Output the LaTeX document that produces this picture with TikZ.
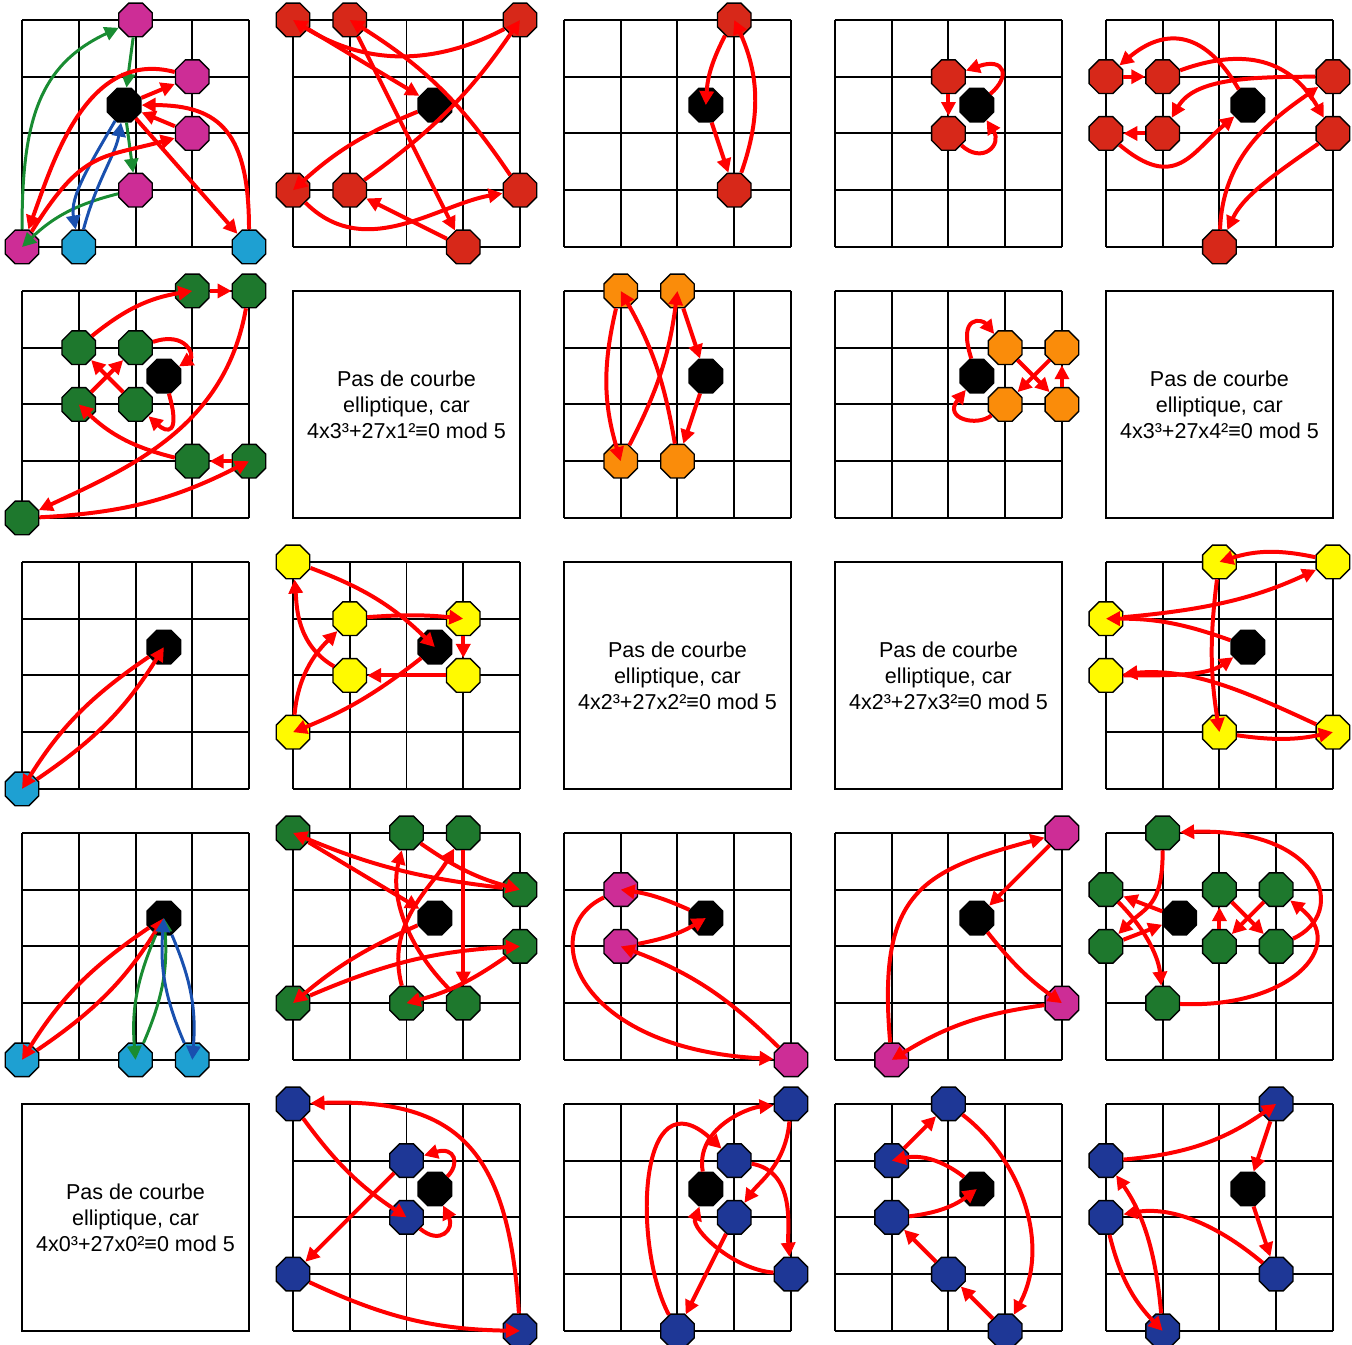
\documentclass[tikz,border=0pt]{standalone}
\usepackage{fontspec}
\setmainfont{Liberation Sans}
\usetikzlibrary{arrows.meta,shapes.geometric}
\definecolor{ptmagenta}{RGB}{205,45,150}
\definecolor{ptcyan}{RGB}{30,160,210}
\definecolor{ptrouge}{RGB}{215,40,25}
\definecolor{ptvert}{RGB}{30,120,45}
\definecolor{ptorange}{RGB}{250,140,10}
\definecolor{ptjaune}{RGB}{255,250,0}
\definecolor{ptbleu}{RGB}{30,55,150}
\definecolor{flrouge}{RGB}{255,0,0}
\definecolor{flvert}{RGB}{25,140,50}
\definecolor{flbleu}{RGB}{25,80,175}
\begin{document}
\begin{tikzpicture}[x=1cm,y=1cm,>={Triangle[length=7pt,width=7pt]},
  grille/.style={line width=1pt},
  pt/.style={regular polygon,regular polygon sides=8,draw=black,line width=0.7pt,inner sep=0pt,minimum size=0.64cm},
  inf/.style={pt,fill=black},
  pm/.style={pt,fill=ptmagenta},
  pc/.style={pt,fill=ptcyan},
  pr/.style={pt,fill=ptrouge},
  pv/.style={pt,fill=ptvert},
  po/.style={pt,fill=ptorange},
  pj/.style={pt,fill=ptjaune},
  pb/.style={pt,fill=ptbleu},
  fl/.style={->,line width=2pt,flrouge},
  flv/.style={->,line width=1.5pt,flvert},
  flb/.style={->,line width=1.5pt,flbleu},
  txt/.style={align=center,font=\fontsize{10.8pt}{13pt}\selectfont}]
\useasboundingbox (-0.388,-19.348) rectangle (23.436,4.352);

\begin{scope}[shift={(0,0)},name prefix=a4b0-]
  \draw[grille] (0,0) grid (4,4);
  \node[inf] (o) at (1.8,2.5) {};
  \node[pm] (m1) at (2,4) {};
  \node[pm] (m2) at (3,3) {};
  \node[pm] (m3) at (3,2) {};
  \node[pm] (m4) at (2,1) {};
  \node[pm] (m5) at (0,0) {};
  \node[pc] (c1) at (1,0) {};
  \node[pc] (c2) at (4,0) {};
  \draw[flv] (m5) to[out=90,in=205,looseness=1.15] (m1);
  \draw[flv] (m1) -- (o);
  \draw[flv] (o) -- (m4);
  \draw[flv] (m4) to[bend right=15] (m5);
  \draw[flb] (o) to[out=240,in=100] (c1);
  \draw[flb] (c1) to[out=75,in=260] (o);
  \draw[fl] (o) -- (m2);
  \draw[fl] (m2) to[out=165,in=70] (m5);
  \draw[fl] (m5) to[out=58,in=195,looseness=1.3] (m3);
  \draw[fl] (m3) -- (o);
  \draw[fl] (o) -- (c2);
  \draw[fl] (c2) to[out=90,in=0,looseness=1.4] (o);
\end{scope}

\begin{scope}[shift={(4.775,0)},name prefix=a4b1-]
  \draw[grille] (0,0) grid (4,4);
  \node[inf] (o) at (2.5,2.5) {};
  \node[pr] (p1) at (0,1) {};
  \node[pr] (p2) at (4,1) {};
  \node[pr] (p3) at (1,4) {};
  \node[pr] (p4) at (3,0) {};
  \node[pr] (p5) at (1,1) {};
  \node[pr] (p6) at (4,4) {};
  \node[pr] (p7) at (0,4) {};
  \draw[fl] (o) to[bend right=10] (p1);
  \draw[fl] (p1) to[out=-45,in=190] (p2);
  \draw[fl] (p2) to[bend right=12] (p3);
  \draw[fl] (p3) -- (p4);
  \draw[fl] (p4) -- (p5);
  \draw[fl] (p5) to[bend right=10] (p6);
  \draw[fl] (p6) to[bend left=30] (p7);
  \draw[fl] (p7) -- (o);
\end{scope}

\begin{scope}[shift={(9.55,0)},name prefix=a4b2-]
  \draw[grille] (0,0) grid (4,4);
  \node[inf] (o) at (2.5,2.5) {};
  \node[pr] (p1) at (3,1) {};
  \node[pr] (p2) at (3,4) {};
  \draw[fl] (o) -- (p1);
  \draw[fl] (p1) to[bend right=22] (p2);
  \draw[fl] (p2) to[bend right=12] (o);
\end{scope}

\begin{scope}[shift={(14.325,0)},name prefix=a4b3-]
  \draw[grille] (0,0) grid (4,4);
  \node[inf] (o) at (2.5,2.5) {};
  \node[pr] (p1) at (2,3) {};
  \node[pr] (p2) at (2,2) {};
  \draw[fl] (o) .. controls (3.1,3.0) and (3.0,3.35) .. (p1);
  \draw[fl] (p1) -- (p2);
  \draw[fl] (p2) .. controls (2.6,1.45) and (2.95,1.8) .. (o);
\end{scope}

\begin{scope}[shift={(19.1,0)},name prefix=a4b4-]
  \draw[grille] (0,0) grid (4,4);
  \node[inf] (o) at (2.5,2.5) {};
  \node[pr] (p1) at (0,3) {};
  \node[pr] (p2) at (1,3) {};
  \node[pr] (p3) at (4,2) {};
  \node[pr] (p4) at (2,0) {};
  \node[pr] (p5) at (4,3) {};
  \node[pr] (p6) at (1,2) {};
  \node[pr] (p7) at (0,2) {};
  \draw[fl] (o) to[out=120,in=40,looseness=1.4] (p1);
  \draw[fl] (p1) -- (p2);
  \draw[fl] (p2) to[out=20,in=120,looseness=1.2] (p3);
  \draw[fl] (p3) to[out=215,in=65] (p4);
  \draw[fl] (p4) to[out=88,in=215] (p5);
  \draw[fl] (p5) to[out=180,in=60] (p6);
  \draw[fl] (p6) -- (p7);
  \draw[fl] (p7) to[out=-40,in=220,looseness=1.4] (o);
\end{scope}

\begin{scope}[shift={(0,-4.775)},name prefix=a3b0-]
  \draw[grille] (0,0) grid (4,4);
  \node[inf] (o) at (2.5,2.5) {};
  \node[pv] (p1) at (2,2) {};
  \node[pv] (p2) at (1,3) {};
  \node[pv] (p3) at (3,4) {};
  \node[pv] (p4) at (4,4) {};
  \node[pv] (p5) at (0,0) {};
  \node[pv] (p6) at (4,1) {};
  \node[pv] (p7) at (3,1) {};
  \node[pv] (p8) at (1,2) {};
  \node[pv] (p9) at (2,3) {};
  \draw[fl] (o) .. controls (2.8,1.45) and (2.55,1.5) .. (p1);
  \draw[fl] (p1) -- (p2);
  \draw[fl] (p2) to[bend left=15] (p3);
  \draw[fl] (p3) -- (p4);
  \draw[fl] (p4) to[out=260,in=25] (p5);
  \draw[fl] (p5) to[bend right=12] (p6);
  \draw[fl] (p6) -- (p7);
  \draw[fl] (p7) to[bend left=15] (p8);
  \draw[fl] (p8) -- (p9);
  \draw[fl] (p9) .. controls (2.9,3.3) and (3.05,2.85) .. (o);
\end{scope}

\begin{scope}[shift={(4.775,-4.775)},name prefix=a3b1-]
  \draw[grille] (0,0) rectangle (4,4);
  \node[txt] (t) at (2,2) {Pas de courbe\\elliptique, car\\4x3³+27x1²≡0 mod 5};
\end{scope}

\begin{scope}[shift={(9.55,-4.775)},name prefix=a3b2-]
  \draw[grille] (0,0) grid (4,4);
  \node[inf] (o) at (2.5,2.5) {};
  \node[po] (p1) at (2,1) {};
  \node[po] (p2) at (1,4) {};
  \node[po] (p3) at (1,1) {};
  \node[po] (p4) at (2,4) {};
  \draw[fl] (o) -- (p1);
  \draw[fl] (p1) to[bend right=10] (p2);
  \draw[fl] (p2) to[bend right=15] (p3);
  \draw[fl] (p3) to[bend right=10] (p4);
  \draw[fl] (p4) -- (o);
\end{scope}

\begin{scope}[shift={(14.325,-4.775)},name prefix=a3b3-]
  \draw[grille] (0,0) grid (4,4);
  \node[inf] (o) at (2.5,2.5) {};
  \node[po] (p1) at (3,3) {};
  \node[po] (p2) at (4,2) {};
  \node[po] (p3) at (4,3) {};
  \node[po] (p4) at (3,2) {};
  \draw[fl] (o) .. controls (2.15,3.6) and (2.6,3.5) .. (p1);
  \draw[fl] (p1) -- (p2);
  \draw[fl] (p2) -- (p3);
  \draw[fl] (p3) -- (p4);
  \draw[fl] (p4) .. controls (2.5,1.6) and (1.9,1.75) .. (o);
\end{scope}

\begin{scope}[shift={(19.1,-4.775)},name prefix=a3b4-]
  \draw[grille] (0,0) rectangle (4,4);
  \node[txt] (t) at (2,2) {Pas de courbe\\elliptique, car\\4x3³+27x4²≡0 mod 5};
\end{scope}

\begin{scope}[shift={(0,-9.55)},name prefix=a2b0-]
  \draw[grille] (0,0) grid (4,4);
  \node[inf] (o) at (2.5,2.5) {};
  \node[pc] (p) at (0,0) {};
  \draw[fl] (o) to[bend right=12] (p);
  \draw[fl] (p) to[bend right=12] (o);
\end{scope}

\begin{scope}[shift={(4.775,-9.55)},name prefix=a2b1-]
  \draw[grille] (0,0) grid (4,4);
  \node[inf] (o) at (2.5,2.5) {};
  \node[pj] (p1) at (0,1) {};
  \node[pj] (p2) at (1,3) {};
  \node[pj] (p3) at (3,3) {};
  \node[pj] (p4) at (3,2) {};
  \node[pj] (p5) at (1,2) {};
  \node[pj] (p6) at (0,4) {};
  \draw[fl] (o) to[bend left=8] (p1);
  \draw[fl] (p1) to[out=85,in=225] (p2);
  \draw[fl] (p2) to[bend left=5] (p3);
  \draw[fl] (p3) -- (p4);
  \draw[fl] (p4) -- (p5);
  \draw[fl] (p5) to[out=150,in=-85] (p6);
  \draw[fl] (p6) to[bend left=12] (o);
\end{scope}

\begin{scope}[shift={(9.55,-9.55)},name prefix=a2b2-]
  \draw[grille] (0,0) rectangle (4,4);
  \node[txt] (t) at (2,2) {Pas de courbe\\elliptique, car\\4x2³+27x2²≡0 mod 5};
\end{scope}

\begin{scope}[shift={(14.325,-9.55)},name prefix=a2b3-]
  \draw[grille] (0,0) rectangle (4,4);
  \node[txt] (t) at (2,2) {Pas de courbe\\elliptique, car\\4x2³+27x3²≡0 mod 5};
\end{scope}

\begin{scope}[shift={(19.1,-9.55)},name prefix=a2b4-]
  \draw[grille] (0,0) grid (4,4);
  \node[inf] (o) at (2.5,2.5) {};
  \node[pj] (p1) at (0,3) {};
  \node[pj] (p2) at (4,4) {};
  \node[pj] (p3) at (2,4) {};
  \node[pj] (p4) at (2,1) {};
  \node[pj] (p5) at (4,1) {};
  \node[pj] (p6) at (0,2) {};
  \draw[fl] (o) to[bend right=10] (p1);
  \draw[fl] (p1) to[out=5,in=205] (p2);
  \draw[fl] (p2) to[bend right=15] (p3);
  \draw[fl] (p3) to[bend right=8] (p4);
  \draw[fl] (p4) to[bend right=10] (p5);
  \draw[fl] (p5) to[out=155,in=5] (p6);
  \draw[fl] (p6) to[out=0,in=215] (o);
\end{scope}

\begin{scope}[shift={(0,-14.325)},name prefix=a1b0-]
  \draw[grille] (0,0) grid (4,4);
  \node[inf] (o) at (2.5,2.5) {};
  \node[pc] (p1) at (0,0) {};
  \node[pc] (p2) at (2,0) {};
  \node[pc] (p3) at (3,0) {};
  \draw[fl] (o) to[bend right=12] (p1);
  \draw[fl] (p1) to[bend right=12] (o);
  \draw[flv] (o) to[bend right=14] (p2);
  \draw[flv] (p2) to[bend right=14] (o);
  \draw[flb] (o) to[bend left=14] (p3);
  \draw[flb] (p3) to[bend left=14] (o);
\end{scope}

\begin{scope}[shift={(4.775,-14.325)},name prefix=a1b1-]
  \draw[grille] (0,0) grid (4,4);
  \node[inf] (o) at (2.5,2.5) {};
  \node[pv] (p1) at (0,1) {};
  \node[pv] (p2) at (4,2) {};
  \node[pv] (p3) at (2,1) {};
  \node[pv] (p4) at (3,4) {};
  \node[pv] (p5) at (3,1) {};
  \node[pv] (p6) at (2,4) {};
  \node[pv] (p7) at (4,3) {};
  \node[pv] (p8) at (0,4) {};
  \draw[fl] (o) to[bend right=8] (p1);
  \draw[fl] (p1) to[bend left=10] (p2);
  \draw[fl] (p2) to[bend left=10] (p3);
  \draw[fl] (p3) to[out=105,in=240] (p4);
  \draw[fl] (p4) -- (p5);
  \draw[fl] (p5) to[out=135,in=255] (p6);
  \draw[fl] (p6) to[bend right=10] (p7);
  \draw[fl] (p7) to[bend left=8] (p8);
  \draw[fl] (p8) -- (o);
\end{scope}

\begin{scope}[shift={(9.55,-14.325)},name prefix=a1b2-]
  \draw[grille] (0,0) grid (4,4);
  \node[inf] (o) at (2.5,2.5) {};
  \node[pm] (p1) at (1,3) {};
  \node[pm] (p2) at (4,0) {};
  \node[pm] (p3) at (1,2) {};
  \draw[fl] (o) to[bend right=8] (p1);
  \draw[fl] (p1) .. controls (-0.5,2.3) and (0.2,0.2) .. (p2);
  \draw[fl] (p2) to[bend right=12] (p3);
  \draw[fl] (p3) to[bend right=10] (o);
\end{scope}

\begin{scope}[shift={(14.325,-14.325)},name prefix=a1b3-]
  \draw[grille] (0,0) grid (4,4);
  \node[inf] (o) at (2.5,2.5) {};
  \node[pm] (p1) at (4,1) {};
  \node[pm] (p2) at (1,0) {};
  \node[pm] (p3) at (4,4) {};
  \draw[fl] (o) to[bend right=8] (p1);
  \draw[fl] (p1) to[bend right=12] (p2);
  \draw[fl] (p2) to[out=95,in=195,looseness=1.4] (p3);
  \draw[fl] (p3) -- (o);
\end{scope}

\begin{scope}[shift={(19.1,-14.325)},name prefix=a1b4-]
  \draw[grille] (0,0) grid (4,4);
  \node[inf] (o) at (1.3,2.5) {};
  \node[pv] (p1) at (0,3) {};
  \node[pv] (p2) at (1,1) {};
  \node[pv] (p3) at (3,3) {};
  \node[pv] (p4) at (2,2) {};
  \node[pv] (p5) at (2,3) {};
  \node[pv] (p6) at (3,2) {};
  \node[pv] (p7) at (1,4) {};
  \node[pv] (p8) at (0,2) {};
  \draw[fl] (o) -- (p1);
  \draw[fl] (p1) to[out=-45,in=95] (p2);
  \draw[fl] (p2) .. controls (3.2,0.9) and (4.3,2.0) .. (p3);
  \draw[fl] (p3) -- (p4);
  \draw[fl] (p4) -- (p5);
  \draw[fl] (p5) -- (p6);
  \draw[fl] (p6) .. controls (4.3,2.6) and (3.8,4.1) .. (p7);
  \draw[fl] (p7) to[out=-90,in=45,looseness=1.3] (p8);
  \draw[fl] (p8) -- (o);
\end{scope}

\begin{scope}[shift={(0,-19.1)},name prefix=a0b0-]
  \draw[grille] (0,0) rectangle (4,4);
  \node[txt] (t) at (2,2) {Pas de courbe\\elliptique, car\\4x0³+27x0²≡0 mod 5};
\end{scope}

\begin{scope}[shift={(4.775,-19.1)},name prefix=a0b1-]
  \draw[grille] (0,0) grid (4,4);
  \node[inf] (o) at (2.5,2.5) {};
  \node[pb] (p1) at (2,3) {};
  \node[pb] (p2) at (0,1) {};
  \node[pb] (p3) at (4,0) {};
  \node[pb] (p4) at (0,4) {};
  \node[pb] (p5) at (2,2) {};
  \draw[fl] (o) .. controls (2.95,2.95) and (2.85,3.25) .. (p1);
  \draw[fl] (p1) -- (p2);
  \draw[fl] (p2) to[bend right=12] (p3);
  \draw[fl] (p3) .. controls (3.8,3.2) and (2.9,4.1) .. (p4);
  \draw[fl] (p4) to[bend right=10] (p5);
  \draw[fl] (p5) .. controls (2.6,1.5) and (2.85,1.8) .. (o);
\end{scope}

\begin{scope}[shift={(9.55,-19.1)},name prefix=a0b2-]
  \draw[grille] (0,0) grid (4,4);
  \node[inf] (o) at (2.5,2.5) {};
  \node[pb] (p1) at (4,4) {};
  \node[pb] (p2) at (3,2) {};
  \node[pb] (p3) at (2,0) {};
  \node[pb] (p4) at (3,3) {};
  \node[pb] (p5) at (4,1) {};
  \draw[fl] (o) to[out=100,in=185] (p1);
  \draw[fl] (p1) to[out=-95,in=55] (p2);
  \draw[fl] (p2) -- (p3);
  \draw[fl] (p3) .. controls (1.2,1.5) and (1.3,4.6) .. (p4);
  \draw[fl] (p4) to[out=-10,in=95] (p5);
  \draw[fl] (p5) to[out=175,in=-110] (o);
\end{scope}

\begin{scope}[shift={(14.325,-19.1)},name prefix=a0b3-]
  \draw[grille] (0,0) grid (4,4);
  \node[inf] (o) at (2.5,2.5) {};
  \node[pb] (p1) at (1,3) {};
  \node[pb] (p2) at (2,4) {};
  \node[pb] (p3) at (3,0) {};
  \node[pb] (p4) at (2,1) {};
  \node[pb] (p5) at (1,2) {};
  \draw[fl] (o) to[bend right=25] (p1);
  \draw[fl] (p1) -- (p2);
  \draw[fl] (p2) .. controls (3.3,3.0) and (3.8,1.5) .. (p3);
  \draw[fl] (p3) -- (p4);
  \draw[fl] (p4) -- (p5);
  \draw[fl] (p5) to[bend right=15] (o);
\end{scope}

\begin{scope}[shift={(19.1,-19.1)},name prefix=a0b4-]
  \draw[grille] (0,0) grid (4,4);
  \node[inf] (o) at (2.5,2.5) {};
  \node[pb] (p1) at (3,1) {};
  \node[pb] (p2) at (0,2) {};
  \node[pb] (p3) at (1,0) {};
  \node[pb] (p4) at (0,3) {};
  \node[pb] (p5) at (3,4) {};
  \draw[fl] (o) -- (p1);
  \draw[fl] (p1) to[out=140,in=10] (p2);
  \draw[fl] (p2) to[bend right=15] (p3);
  \draw[fl] (p3) to[out=95,in=-55] (p4);
  \draw[fl] (p4) to[bend right=15] (p5);
  \draw[fl] (p5) -- (o);
\end{scope}
\end{tikzpicture}
\end{document}
